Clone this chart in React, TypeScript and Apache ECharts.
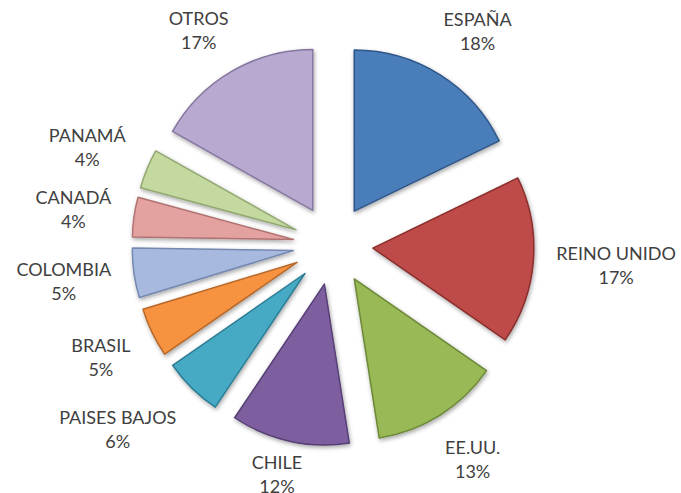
import React, { useEffect, useRef } from "react";
import * as echarts from "echarts";

const categories = [
  "ESPAÑA",
  "REINO UNIDO",
  "EE.UU.",
  "CHILE",
  "PAISES BAJOS",
  "BRASIL",
  "COLOMBIA",
  "CANADÁ",
  "PANAMÁ",
  "OTROS",
];
const values = [18, 17, 13, 12, 6, 5, 5, 4, 4, 17];
const colors = [
  "#4a7ebb",
  "#be4b48",
  "#98b954",
  "#7d5fa0",
  "#46aac5",
  "#f69240",
  "#a7b9de",
  "#e3a19f",
  "#c4d9a0",
  "#b8a9d0",
];
const borderColors = [
  "#2f5688",
  "#8a2f2d",
  "#6c8838",
  "#563f74",
  "#2d7d93",
  "#b8692a",
  "#7488b0",
  "#b07371",
  "#93a872",
  "#8677a0",
];

const W = 681;
const H = 493;
const CX = 333;
const CY = 245;
const RADIUS = 161;
const EXPLODE = 40;
const LABEL_R = 224;
const FONT_SIZE = 18;
const LINE_H = 24;
const FONT = "Lato";

export default function App() {
  const ref = useRef<HTMLDivElement>(null);
  useEffect(() => {
    if (!ref.current) return;
    const chart = echarts.init(ref.current, undefined, { renderer: "svg" });
    const total = values.reduce((a, b) => a + b, 0);
    const canvas = document.createElement("canvas");
    const ctx = canvas.getContext("2d") as CanvasRenderingContext2D;
    ctx.font = `${FONT_SIZE}px ${FONT}`;
    const g = (t: number) => Math.sign(t) * Math.min(1, Math.abs(t) * Math.SQRT2);
    let acc = 0;
    const lines = values.map((v, i) => {
      const a = ((acc + v / 2) / total) * Math.PI * 2;
      acc += v;
      const ux = Math.sin(a);
      const uy = -Math.cos(a);
      const w = Math.max(
        ctx.measureText(categories[i]).width,
        ctx.measureText(`${v}%`).width
      );
      const h = LINE_H * 2;
      let xc = CX + LABEL_R * ux + (w / 2) * g(ux);
      let yc = CY + LABEL_R * uy + (h / 2) * g(uy);
      yc = Math.min(yc, H + 5 - h / 2);
      yc = Math.max(yc, h / 2 + 6);
      const t = Math.abs(uy) > 0.05 ? (yc - CY) / uy : LABEL_R + 20;
      const len = Math.max(0, t - RADIUS - EXPLODE);
      const len2 = Math.max(0, (xc - (CX + t * ux)) * Math.sign(ux));
      return { len, len2 };
    });
    chart.setOption({
      animation: false,
      backgroundColor: "#ffffff",
      series: [
        {
          type: "pie",
          center: [CX, CY],
          radius: [0, RADIUS],
          startAngle: 90,
          clockwise: true,
          selectedMode: "multiple",
          selectedOffset: EXPLODE,
          silent: true,
          avoidLabelOverlap: false,
          emphasis: { disabled: true },
          label: {
            show: true,
            position: "outside",
            overflow: "none",
            distanceToLabelLine: 0,
            formatter: (p: any) => `${p.name}\n${p.value}%`,
            fontFamily: FONT,
            fontSize: FONT_SIZE,
            lineHeight: LINE_H,
            color: "#404040",
            align: "center",
            verticalAlign: "middle",
          },
          labelLine: { show: false },
          labelLayout: () => ({ align: "center", verticalAlign: "middle" }),
          data: categories.map((name, i) => ({
            name,
            value: values[i],
            selected: true,
            labelLine: { show: false, length: lines[i].len, length2: lines[i].len2 },
            itemStyle: {
              color: colors[i],
              borderColor: borderColors[i],
              borderWidth: 1.5,
              shadowBlur: 4,
              shadowOffsetX: 1,
              shadowOffsetY: 2,
              shadowColor: "rgba(0,0,0,0.35)",
            },
          })),
        },
      ],
    });
    return () => chart.dispose();
  }, []);
  return (
    <div
      ref={ref}
      style={{ position: "absolute", left: 0, top: 0, width: W, height: H }}
    />
  );
}
